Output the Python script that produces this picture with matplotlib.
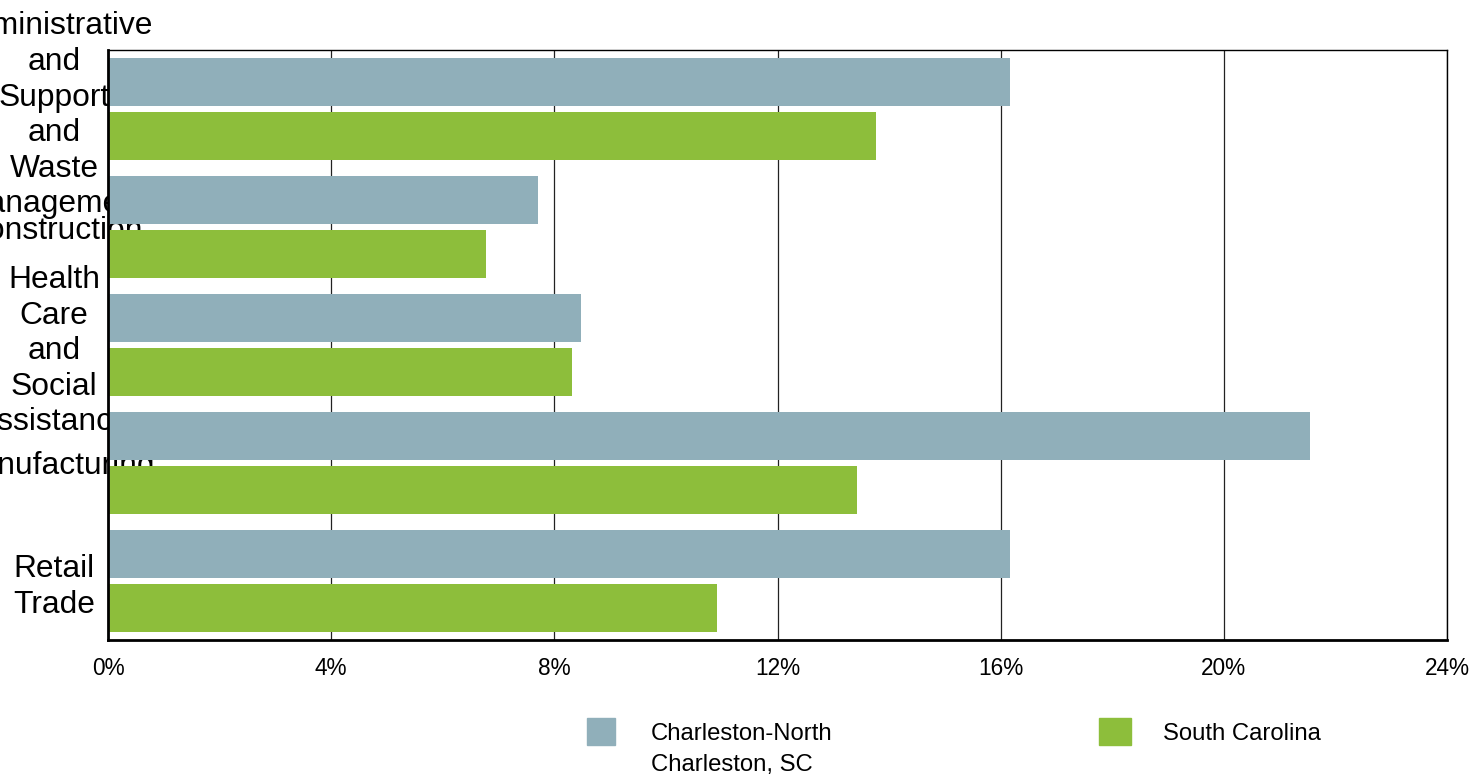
import matplotlib.pyplot as plt
from matplotlib.patches import Rectangle

plt.rcParams['font.family'] = ['Liberation Sans', 'DejaVu Sans']

# Datos
categories = [
    "Administrative\nand\nSupport\nand\nWaste\nManagement",
    "Construction",
    "Health\nCare\nand\nSocial\nAssistance",
    "Manufacturing",
    "Retail\nTrade",
]
charleston = [16.17, 7.71, 8.48, 21.54, 16.17]
south_carolina = [13.77, 6.78, 8.32, 13.43, 10.92]
series_names = ["Charleston-North\nCharleston, SC", "South Carolina"]
x_ticks = [0, 4, 8, 12, 16, 20, 24]

c_blue = '#90afba'
c_green = '#8dbe3b'

fig = plt.figure(figsize=(14.84, 7.78), dpi=100)
ax = fig.add_axes([0.07278, 0.17738, 0.90229, 0.75835])

pos = list(range(len(categories)))
h = 0.407
off = 0.225
ax.barh([p - off for p in pos], charleston, height=h, color=c_blue, zorder=2)
ax.barh([p + off for p in pos], south_carolina, height=h, color=c_green, zorder=2)

ax.set_xlim(0, 24)
ax.set_ylim(4.5, -0.5)
ax.set_axisbelow(True)

ax.set_xticks(x_ticks)
ax.set_xticklabels([f'{t}%' for t in x_ticks], fontsize=16.3)
ax.tick_params(axis='x', length=0, pad=12)
ax.xaxis.grid(True, color='#222222', linewidth=0.9)

# Etiquetas de categoria (se salen por la izquierda como en el original)
ax.set_yticks(pos)
ax.set_yticklabels(categories, fontsize=22.9, ha='center', multialignment='center',
                   linespacing=1.24)
ax.tick_params(axis='y', length=0, pad=38.9)

for side in ['left', 'bottom']:
    ax.spines[side].set_linewidth(2)
for side in ['top', 'right']:
    ax.spines[side].set_linewidth(1)

# Leyenda manual
W, H = 1484, 778
legend_items = [(587, 651, c_blue, series_names[0]), (1099, 1163, c_green, series_names[1])]
for px, tx, col, name in legend_items:
    w = 28 if col == c_blue else 32
    fig.patches.append(Rectangle((px / W, 1 - 745 / H), w / W, 27 / H,
                                 transform=fig.transFigure, color=col))
    fig.text(tx / W, 1 - 723 / H, name, fontsize=17.2, va='top', ha='left',
             linespacing=1.52)

fig.savefig('out.png', dpi=100)
